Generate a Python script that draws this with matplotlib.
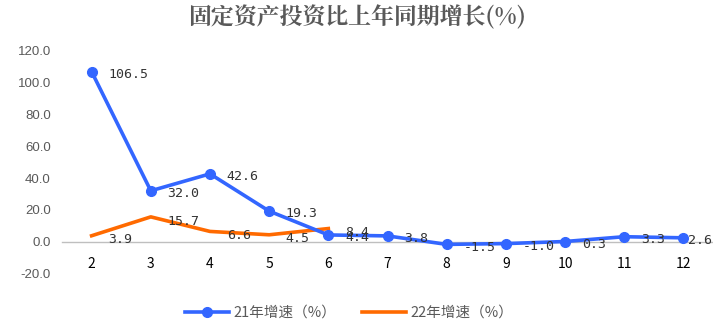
import matplotlib
matplotlib.use("Agg")
import matplotlib.pyplot as plt

plt.rcParams['font.family'] = ['Noto Sans CJK SC', 'DejaVu Sans']

months = ["2", "3", "4", "5", "6", "7", "8", "9", "10", "11", "12"]
growth_21 = [106.5, 32.0, 42.6, 19.3, 4.4, 3.8, -1.5, -1.0, 0.3, 3.3, 2.6]
growth_22 = [3.9, 15.7, 6.6, 4.5, 8.4]
name_21 = "21年增速（%）"
name_22 = "22年增速（%）"
title = "固定资产投资比上年同期增长(%)"

blue = "#3366ff"
orange = "#ff6a00"
grey = "#595959"

fig = plt.figure(figsize=(7.13, 3.25), dpi=100)
ax = fig.add_axes([0.087, 0.157, 0.913, 0.689])

x21 = list(range(len(growth_21)))
x22 = list(range(len(growth_22)))
ax.plot(x21, growth_21, color=blue, lw=2.6, marker="o", ms=7, label=name_21, zorder=3)
ax.plot(x22, growth_22, color=orange, lw=2.6, label=name_22, zorder=2)

label_font = dict(family=["DejaVu Sans Mono"], fontsize=9.5, color="#333333")
last = len(growth_21) - 1
for xi, v in zip(x21, growth_21):
    dx = 3 if xi == last else 12
    ax.annotate(f"{v:.1f}", (xi, v), xytext=(dx, -2), textcoords="offset points",
                ha="left", va="center", **label_font)
for xi, v in zip(x22, growth_22):
    ax.annotate(f"{v:.1f}", (xi, v), xytext=(12, -3), textcoords="offset points",
                ha="left", va="center", **label_font)

ax.set_xlim(-0.5, len(months) - 0.5)
ax.set_ylim(-20, 120)
ax.set_yticks(range(-20, 121, 20))
ax.set_yticklabels([f"{t:.1f}" for t in range(-20, 121, 20)], fontsize=9.5, color=grey,
                   family=["Liberation Sans"])
ax.set_xticks(x21)
ax.set_xticklabels(months, fontsize=9.5, color=grey, family=["DejaVu Sans Mono"])

for s in ["top", "right", "left"]:
    ax.spines[s].set_visible(False)
ax.spines["bottom"].set_position(("data", 0))
ax.spines["bottom"].set_color("#bfbfbf")
ax.spines["bottom"].set_linewidth(1.0)
ax.tick_params(axis="both", length=0)
ax.tick_params(axis="x", pad=11)
ax.tick_params(axis="y", pad=8)

fig.text(0.5, 0.945, title, ha="center", va="center", fontsize=16.5, fontweight="bold",
         color=grey, family=["Noto Serif CJK SC", "Noto Sans CJK SC", "DejaVu Sans"])

fig.legend(loc="center", bbox_to_anchor=(0.49, 0.037), ncol=2, frameon=False,
           fontsize=10.5, labelcolor=grey, handlelength=3.0, columnspacing=1.8,
           handletextpad=0.3)

fig.savefig("out.png", dpi=100)
